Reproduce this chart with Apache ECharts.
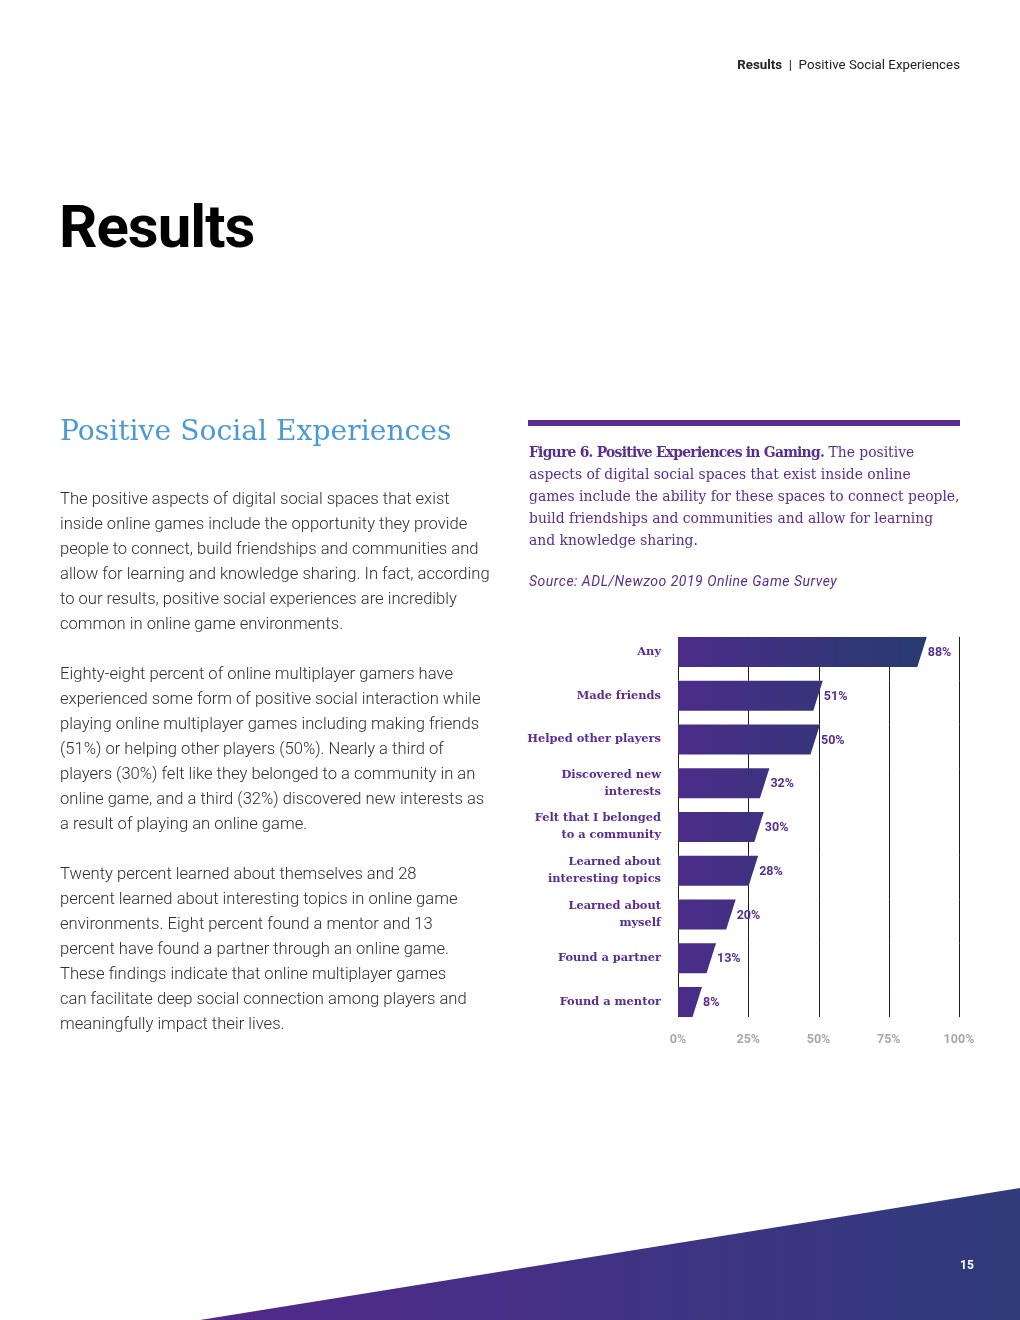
<!DOCTYPE html>
<html><head><meta charset="utf-8">
<script src="https://cdn.jsdelivr.net/npm/echarts/dist/echarts.min.js"></script>
<style>
html,body{margin:0;padding:0;background:#fff;}
#page{position:relative;width:1020px;height:1320px;overflow:hidden;background:#fff;}
#chart{position:absolute;left:0;top:0;width:1020px;height:1320px;}
.t{position:absolute;white-space:nowrap;}
</style></head><body>
<div id="page">
<div id="chart"></div>
<div class="t" style="right:60px;top:57px;font:13.3px/16px Roboto;color:#222;"><b>Results</b>&nbsp; | &nbsp;Positive Social Experiences</div>
<div class="t" style="left:59px;top:197px;font:700 60px/60px Roboto;color:#000;letter-spacing:-1px;">Results</div>
<div class="t" style="left:60px;top:411px;font:300 28.2px/40px 'DejaVu Serif';color:#4a9bd5;">Positive Social Experiences</div>
<div class="t" style="left:60px;top:485.5px;font:300 16.6px/25px Roboto;color:#2e2e2e;">The positive aspects of digital social spaces that exist<br>inside online games include the opportunity they provide<br>people to connect, build friendships and communities and<br>allow for learning and knowledge sharing. In fact, according<br>to our results, positive social experiences are incredibly<br>common in online game environments.<br><br>Eighty-eight percent of online multiplayer gamers have<br>experienced some form of positive social interaction while<br>playing online multiplayer games including making friends<br>(51%) or helping other players (50%). Nearly a third of<br>players (30%) felt like they belonged to a community in an<br>online game, and a third (32%) discovered new interests as<br>a result of playing an online game.<br><br>Twenty percent learned about themselves and 28<br>percent learned about interesting topics in online game<br>environments. Eight percent found a mentor and 13<br>percent have found a partner through an online game.<br>These findings indicate that online multiplayer games<br>can facilitate deep social connection among players and<br>meaningfully impact their lives.</div>
<div class="t" style="left:528px;top:420px;width:432px;height:6px;background:#5b2d8e;"></div>
<div class="t" style="left:529px;top:441px;font:13.9px/22px 'DejaVu Serif';color:#5a2d91;"><b style="letter-spacing:-0.75px">Figure 6. Positive Experiences in Gaming.</b> The positive<br>aspects of digital social spaces that exist inside online<br>games include the ability for these spaces to connect people,<br>build friendships and communities and allow for learning<br>and knowledge sharing.</div>
<div class="t" style="left:529px;top:572px;font:italic 14px/18px Roboto;letter-spacing:0.5px;color:#5a2d91;">Source: ADL/Newzoo 2019 Online Game Survey</div>
<div class="t" style="left:951px;top:1257px;width:32px;text-align:center;font:bold 12px/16px Roboto;color:#fff;">15</div>
</div>
<script>
const categories = ['Any','Made friends','Helped other players','Discovered new\ninterests','Felt that I belonged\nto a community','Learned about\ninteresting topics','Learned about\nmyself','Found a partner','Found a mentor'];
const values = [88,51,50,32,30,28,20,13,8];
const xTicks = [0,25,50,75,100];

const chart = echarts.init(document.getElementById('chart'), null, {renderer:'canvas'});
const option = {
  animation:false,
  grid:{left:678, right:61, top:630, bottom:296, containLabel:false},
  xAxis:{type:'value', min:0, max:100, interval:25,
    axisLine:{show:false}, axisTick:{show:false}, splitLine:{show:false},
    axisLabel:{formatter:'{value}%', color:'#a8a8a8', fontWeight:'bold', fontSize:12.5, fontFamily:'Roboto', margin:9}},
  yAxis:{type:'category', data:categories, inverse:true,
    axisLine:{show:false}, axisTick:{show:false}, splitLine:{show:false},
    axisLabel:{color:'#5a2d91', fontWeight:'bold', fontSize:11.4, fontFamily:'DejaVu Serif', lineHeight:17, margin:17, align:'right'}},
  graphic:[{type:'polygon', shape:{points:[[200,1320],[1020,1188],[1020,1320]]},
    style:{fill:{type:'linear',x:200,y:0,x2:1020,y2:0,global:true,colorStops:[{offset:0,color:'#53288c'},{offset:1,color:'#2f3b7b'}]}}, z:-1}],
  series:[{
    type:'custom',
    encode:{x:0,y:1},
    data: values.map((v,i)=>[v,i]),
    renderItem(params, api){
      const idx = api.value(1), v = api.value(0);
      const c = api.coord([v, idx]);
      const x0 = api.coord([0, idx])[0];
      const x100 = api.coord([100, idx])[0];
      const band = api.size([0,1])[1];
      const h = 30;
      const top = c[1]-h/2, bot = c[1]+h/2;
      const lineEnd = idx === categories.length-1 ? bot : top + band;
      const children = [];
      xTicks.forEach(t=>{
        const x = Math.round(api.coord([t, idx])[0]) + 0.5;
        children.push({type:'line', shape:{x1:x,y1:top,x2:x,y2:lineEnd}, style:{stroke:'#1e1e1e', lineWidth:1}});
      });
      const xr = c[0] + 1.5;
      children.push({type:'polygon', shape:{points:[[x0,top],[xr,top],[xr-9.5,bot],[x0,bot]]},
        style:{fill:{type:'linear', x:x0, y:0, x2:x0+(x100-x0)*0.95, y2:0, global:true,
          colorStops:[{offset:0,color:'#4b2c89'},{offset:1,color:'#253c6e'}]}}});
      children.push({type:'text', style:{text:v+'%', x:xr+1, y:c[1]+1, align:'left', verticalAlign:'middle',
        fill:'#5a2d91', font:'bold 12.5px Roboto'}});
      return {type:'group', children};
    }
  }]
};
chart.setOption(option);
</script>
</body></html>
